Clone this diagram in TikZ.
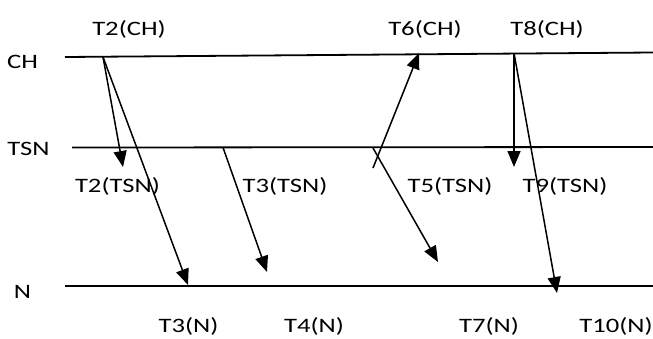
\documentclass[tikz,border=0pt]{standalone}
\usepackage{fontspec}
\setmainfont{Carlito}
\usetikzlibrary{arrows.meta}
\newcommand\sx[1]{\scalebox{1.3}[1]{#1}}
\begin{document}
\begin{tikzpicture}[x=1pt,y=-1pt,
  lane/.style={line width=1.8pt},
  msg/.style={line width=1.5pt,-{Triangle[length=16pt,width=13pt]}},
  lbl/.style={font=\fontsize{20.5}{24}\selectfont, inner sep=0pt, anchor=base}]
\useasboundingbox (0,0) rectangle (653,338);
% lanes
\coordinate (chL) at (65,57);   \coordinate (chR) at (653,52.5);
\coordinate (tsnL) at (72,147.5); \coordinate (tsnR) at (653,147);
\coordinate (nL) at (65,286);   \coordinate (nR) at (653,286);
\draw[lane] (chL) -- (chR);
\draw[lane] (tsnL) -- (tsnR);
\draw[lane] (nL) -- (nR);
% lane labels
\node[lbl] (lch) at (22.5,68) {\sx{CH}};
\node[lbl] (ltsn) at (28.5,155) {\sx{TSN}};
\node[lbl] (ln) at (22.5,298) {\sx{N}};
% time labels
\node[lbl] (t2ch) at (129,35) {\sx{T2(CH)}};
\node[lbl] (t6ch) at (425,35) {\sx{T6(CH)}};
\node[lbl] (t8ch) at (547,35) {\sx{T8(CH)}};
\node[lbl] (t2tsn) at (117.5,192) {\sx{T2(TSN)}};
\node[lbl] (t3tsn) at (285,192) {\sx{T3(TSN)}};
\node[lbl] (t5tsn) at (450,192) {\sx{T5(TSN)}};
\node[lbl] (t9tsn) at (565,192) {\sx{T9(TSN)}};
\node[lbl] (t3n) at (188.5,332) {\sx{T3(N)}};
\node[lbl] (t4n) at (314,332) {\sx{T4(N)}};
\node[lbl] (t7n) at (489,332) {\sx{T7(N)}};
\node[lbl] (t10n) at (616,332) {\sx{T10(N)}};
% message end points
\coordinate (a) at (103,57);
\coordinate (a1) at (123,167);
\coordinate (a2) at (188,285);
\coordinate (b) at (223,147.5);
\coordinate (b1) at (267,272);
\coordinate (c) at (373,168);
\coordinate (c1) at (419,53);
\coordinate (d) at (373,148);
\coordinate (d1) at (438,262);
\coordinate (e) at (514,53);
\coordinate (e1) at (514,167);
\coordinate (e2) at (557,293);
\draw[msg] (a) -- (a1);
\draw[msg] (a) -- (a2);
\draw[msg] (b) -- (b1);
\draw[msg] (c) -- (c1);
\draw[msg] (d) -- (d1);
\draw[msg] (e) -- (e1);
\draw[msg] (e) -- (e2);
\end{tikzpicture}
\end{document}
